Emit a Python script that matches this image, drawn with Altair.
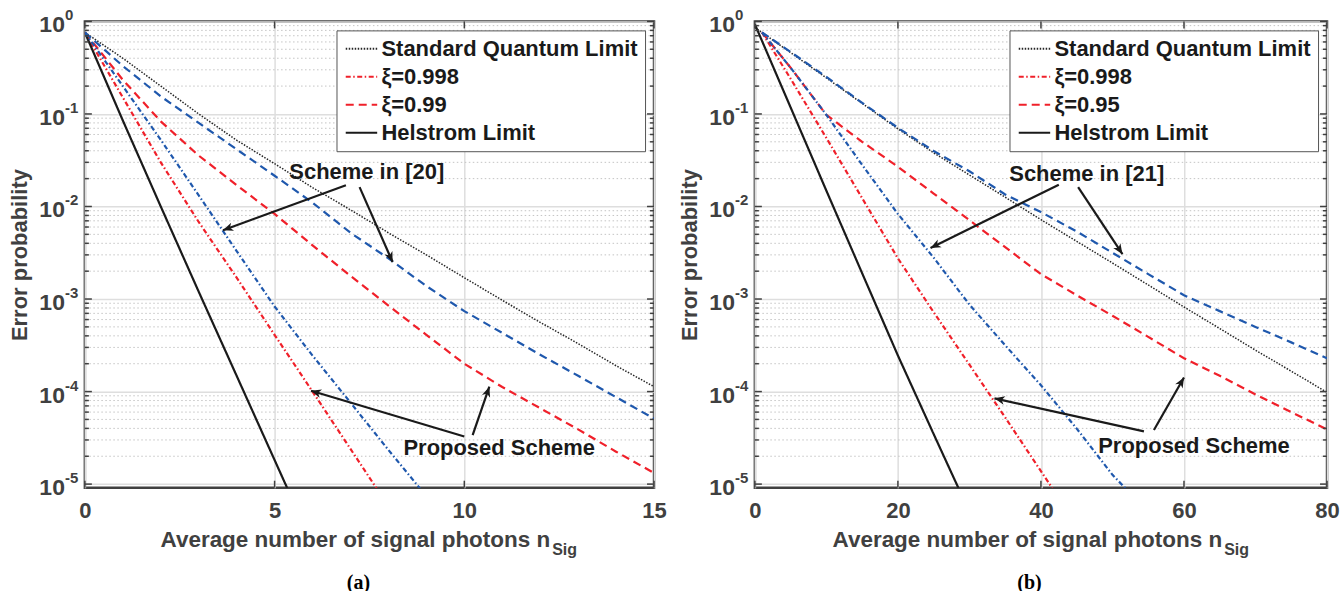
import math
import altair as alt
import pandas as pd

FONT = "Liberation Sans"
SERIF = "Liberation Serif"
GRAY = "#404040"
TXT = "#1a1a1a"
RED = "#f0202a"
BLUE = "#1f58ad"

H = 467
WA, WB = 570, 573
YMIN, YMAX = 9.14e-6, 1.0

# ---------------- data, panel (a) ----------------
a_x15 = list(range(0, 16))
a_sql = [0.76, 0.40, 0.20, 0.10, 0.052, 0.029, 0.016, 0.0092, 0.0052, 0.003,
         0.0017, 0.00097, 0.00056, 0.00033, 0.00019, 0.000113]
a_s20_099 = [0.76, 0.33, 0.155, 0.08, 0.0415, 0.0215, 0.011, 0.0052, 0.00275,
             0.00138, 0.00074, 0.00043, 0.00025, 0.000148, 8.7e-5, 5.1e-5]
a_p099 = [0.76, 0.234, 0.083, 0.0355, 0.017, 0.0083, 0.0038, 0.00178, 0.00085,
          0.00041, 0.0002, 0.000112, 6.6e-5, 3.9e-5, 2.24e-5, 1.32e-5]
a_x9 = list(range(0, 10))
a_s20_0998 = [0.76, 0.2, 0.0525, 0.0132, 0.0033, 0.00083, 0.000245, 7.6e-5, 2.34e-5, 7.4e-6]
a_x8 = list(range(0, 9))
a_p0998 = [0.76, 0.151, 0.030, 0.0068, 0.0017, 0.00041, 0.0001, 2.4e-5, 5.75e-6]
a_x6 = list(range(0, 7))
a_hel = [0.76, 0.085, 0.01, 0.0012, 0.000148, 1.82e-5, 2.24e-6]

# ---------------- data, panel (b) ----------------
b_x0_80 = list(range(0, 81, 5))
b_x1_80 = [1] + list(range(5, 81, 5))
b_sql = [0.86, 0.46, 0.245, 0.13, 0.069, 0.038, 0.0219, 0.0126, 0.0072, 0.0042,
         0.00245, 0.00142, 0.00082, 0.00048, 0.00028, 0.000166, 9.8e-5]
b_s21_095 = [0.76, 0.468, 0.251, 0.132, 0.0708, 0.0398, 0.024, 0.0135, 0.0087,
             0.00537, 0.00316, 0.00186, 0.0011, 0.00074, 0.0005, 0.00034, 0.000229]
b_p095 = [0.76, 0.316, 0.0977, 0.05, 0.0269, 0.0138, 0.0071, 0.00363, 0.00186,
          0.0011, 0.00066, 0.00039, 0.000229, 0.000148, 9.3e-5, 6.0e-5, 3.9e-5]
b_x1_55 = [1] + list(range(5, 56, 5))
b_s21_0998 = [0.76, 0.316, 0.0977, 0.0282, 0.0083, 0.0028, 0.00087, 0.000316,
              0.000117, 3.98e-5, 1.26e-5, 5e-6]
b_x1_45 = [1] + list(range(5, 46, 5))
b_p0998 = [0.76, 0.24, 0.055, 0.0123, 0.00275, 0.00072, 0.000195, 5.25e-5, 1.38e-5, 3.6e-6]
b_x0_30 = list(range(0, 31, 5))
b_hel = [0.93, 0.1175, 0.0148, 0.0019, 0.000245, 3.47e-5, 5e-6]

# labels
SQL = "Standard Quantum Limit"
HEL = "Helstrom Limit"
XTITLE = "Average number of signal photons n"
XSUB = "Sig"
YTITLE = "Error probability"

a_arrows = [  # (x_start, y_start, x_tip, y_tip)
    (6.88, 0.0170, 3.64, 0.00553),
    (7.24, 0.0162, 8.11, 0.00251),
    (10.0, 3.27e-5, 5.96, 1.02e-4),
    (10.22, 3.39e-5, 10.66, 1.13e-4),
]
b_arrows = [
    (42.5, 0.0172, 24.56, 0.00356),
    (45.2, 0.0162, 51.4, 0.00305),
    (54.4, 3.72e-5, 33.5, 8.45e-5),
    (55.8, 3.85e-5, 60.0, 1.42e-4),
]
a_notes = [("Scheme in [20]", 7.43, 0.0235), ("Proposed Scheme", 10.92, 2.43e-5)]
b_notes = [("Scheme in [21]", 46.4, 0.0226), ("Proposed Scheme", 61.4, 2.55e-5)]

DECADES = [1e-5, 1e-4, 1e-3, 1e-2, 1e-1, 1.0]
EXPS = ["-5", "-4", "-3", "-2", "-1", "0"]
MINORS = [m * 10.0 ** k for k in range(-5, 0) for m in range(2, 10)]

ARROW_PATH = "M0,0L-0.42,1L0,0.72L0.42,1Z"


def panel(xmax, W, xticks, series, legend_vals, arrows, notes, caption, cap_x, sub_x):
    names = [s[0] for s in series]
    colors = [s[3] for s in series]
    dashes = [s[4] for s in series]
    rows = []
    for name, xs, ys, _, _ in series:
        for x, y in zip(xs, ys):
            rows.append({"x": x, "y": y, "s": name})
    df = pd.DataFrame(rows)

    xsc = alt.Scale(domain=[0, xmax], nice=False, zero=False)
    ysc = alt.Scale(type="log", domain=[YMIN, YMAX], nice=False)

    leg = alt.Legend(
        title=None, values=legend_vals, orient="top-right", offset=9,
        fillColor="white", strokeColor="#555555", padding=7,
        symbolType="M-1.5,0H1.5", symbolSize=441, symbolStrokeWidth=2,
        symbolOffset=6.5,
        labelFont=FONT, labelFontSize=22, labelFontWeight="bold",
        labelColor=TXT, labelOffset=8.5, rowPadding=5, labelLimit=400,
    )

    xaxis = alt.Axis(
        values=xticks, grid=True, gridColor="#dedede", gridWidth=1.5,
        domain=False, ticks=False, labelFont=FONT, labelFontSize=22,
        labelFontWeight="bold", labelColor=GRAY, labelPadding=13,
        labelFlush=False, title=None,
    )
    yaxis = alt.Axis(
        values=DECADES, grid=True, gridColor="#dedede", gridWidth=1.5,
        domain=False, ticks=False, labels=False, title=YTITLE,
        titleFont=FONT, titleFontSize=22, titleFontWeight="bold",
        titleColor=GRAY, titlePadding=53,
    )

    def X(f):
        return alt.X(f, scale=xsc, axis=xaxis)

    def Y(f):
        return alt.Y(f, scale=ysc, axis=yaxis)

    minor = alt.Chart(pd.DataFrame({"v": MINORS})).mark_rule(
        color="#c4c4c4", strokeDash=[1.5, 2.5], strokeWidth=1
    ).encode(y=Y("v:Q"))

    lines = alt.Chart(df).mark_line(clip=True).encode(
        x=X("x:Q"),
        y=Y("y:Q"),
        color=alt.Color("s:N", scale=alt.Scale(domain=names, range=colors), legend=leg),
        strokeDash=alt.StrokeDash("s:N", scale=alt.Scale(domain=names, range=dashes), legend=leg),
        strokeWidth=alt.condition(alt.datum.s == SQL, alt.value(1.5), alt.value(2.2)),
    )

    # arrows
    ly0, ly1 = math.log10(YMAX), math.log10(YMIN)
    arows = []
    for x0, y0, x1, y1 in arrows:
        px0, px1 = x0 / xmax * W, x1 / xmax * W
        py0 = (ly0 - math.log10(y0)) / (ly0 - ly1) * H
        py1 = (ly0 - math.log10(y1)) / (ly0 - ly1) * H
        ang = math.degrees(math.atan2(px1 - px0, -(py1 - py0))) % 360
        arows.append({"x0": x0, "y0": y0, "x1": x1, "y1": y1, "ang": ang})
    adf = pd.DataFrame(arows)
    shafts = alt.Chart(adf).mark_rule(color=TXT, strokeWidth=2.2).encode(
        x=X("x0:Q"), y=Y("y0:Q"), x2="x1:Q", y2="y1:Q",
    )
    heads = alt.Chart(adf).mark_point(
        shape=ARROW_PATH, filled=True, color=TXT, size=420, opacity=1
    ).encode(
        x=X("x1:Q"), y=Y("y1:Q"), angle=alt.Angle("ang:Q", scale=None),
    )

    ndf = pd.DataFrame([{"t": t, "x": x, "y": y} for t, x, y in notes])
    note_txt = alt.Chart(ndf).mark_text(
        font=FONT, fontSize=22, fontWeight="bold", color=TXT, align="center", baseline="middle"
    ).encode(x=X("x:Q"), y=Y("y:Q"), text="t:N")

    # inner ticks
    tdf_major = pd.DataFrame({"v": DECADES})
    tdf_minor = pd.DataFrame({"v": MINORS})
    xt = pd.DataFrame({"v": xticks})
    tick_layers = []
    for data, ln in ((tdf_major, 7), (tdf_minor, 4)):
        tick_layers.append(alt.Chart(data).mark_rule(color=GRAY, strokeWidth=1.5).encode(
            y=Y("v:Q"), x=alt.value(0), x2=alt.value(ln)))
        tick_layers.append(alt.Chart(data).mark_rule(color=GRAY, strokeWidth=1.5).encode(
            y=Y("v:Q"), x=alt.value(W - ln), x2=alt.value(W)))
    tick_layers.append(alt.Chart(xt).mark_rule(color=GRAY, strokeWidth=1.5).encode(
        x=X("v:Q"), y=alt.value(H - 7), y2=alt.value(H)))
    tick_layers.append(alt.Chart(xt).mark_rule(color=GRAY, strokeWidth=1.5).encode(
        x=X("v:Q"), y=alt.value(0), y2=alt.value(7)))

    # y tick labels 10^k
    ldf = pd.DataFrame({"v": DECADES, "b": ["10"] * len(DECADES), "e": EXPS})
    base_lbl = alt.Chart(ldf).mark_text(
        font=FONT, fontSize=23, fontWeight="bold", color=GRAY, align="right",
        baseline="middle", dy=4
    ).encode(y=Y("v:Q"), x=alt.value(-20), text="b:N")
    exp_lbl = alt.Chart(ldf).mark_text(
        font=FONT, fontSize=15, fontWeight="bold", color=GRAY, align="left",
        baseline="middle", dy=-6
    ).encode(y=Y("v:Q"), x=alt.value(-20), text="e:N")

    # x title with subscript, caption
    tdf = pd.DataFrame({"t": [XTITLE], "s": [XSUB], "c": [caption]})
    xt_main = alt.Chart(tdf).mark_text(
        font=FONT, fontSize=22.5, fontWeight="bold", color=GRAY, align="right", baseline="alphabetic"
    ).encode(x=alt.value(sub_x - 2), y=alt.value(H + 59), text="t:N")
    xt_sub = alt.Chart(tdf).mark_text(
        font=FONT, fontSize=16, fontWeight="bold", color=GRAY, align="left", baseline="alphabetic"
    ).encode(x=alt.value(sub_x), y=alt.value(H + 67), text="s:N")
    cap = alt.Chart(tdf).mark_text(
        font=SERIF, fontSize=20, fontWeight="bold", color="#000000", align="center", baseline="middle"
    ).encode(x=alt.value(cap_x), y=alt.value(H + 95), text="c:N")

    return alt.layer(
        minor, lines, shafts, heads, note_txt, *tick_layers, base_lbl, exp_lbl, xt_main, xt_sub, cap
    ).properties(width=W, height=H)


DOT = [1.5, 1.5]
DASHDOT = [5, 2.5, 1.5, 2.5]
DASH = [8, 5]
SOLID = [1, 0]

pa = panel(
    15, WA, [0, 5, 10, 15],
    [
        (SQL, a_x15, a_sql, "#262626", DOT),
        ("ξ=0.998", a_x8, a_p0998, RED, DASHDOT),
        ("ξ=0.99", a_x15, a_p099, RED, DASH),
        (HEL, a_x6, a_hel, TXT, SOLID),
        ("Scheme in [20], ξ=0.998", a_x9, a_s20_0998, BLUE, DASHDOT),
        ("Scheme in [20], ξ=0.99", a_x15, a_s20_099, BLUE, DASH),
    ],
    [SQL, "ξ=0.998", "ξ=0.99", HEL], a_arrows, a_notes, "(a)", 274, 468,
)
pb = panel(
    80, WB, [0, 20, 40, 60, 80],
    [
        (SQL, b_x0_80, b_sql, "#262626", DOT),
        ("ξ=0.998", b_x1_45, b_p0998, RED, DASHDOT),
        ("ξ=0.95", b_x1_80, b_p095, RED, DASH),
        (HEL, b_x0_30, b_hel, TXT, SOLID),
        ("Scheme in [21], ξ=0.998", b_x1_55, b_s21_0998, BLUE, DASHDOT),
        ("Scheme in [21], ξ=0.95", b_x1_80, b_s21_095, BLUE, DASH),
    ],
    [SQL, "ξ=0.998", "ξ=0.95", HEL], b_arrows, b_notes, "(b)", 275, 470,
)

chart = alt.hconcat(pa, pb, spacing=9).resolve_scale(
    x="independent", y="independent", color="independent", strokeDash="independent"
).resolve_legend(color="independent", strokeDash="independent").properties(
    padding={"left": 7, "top": 6, "right": 0, "bottom": 0}, background="white"
).configure_view(stroke=GRAY, strokeWidth=2.5)

chart.save("out.html", embed_options={"renderer": "svg", "actions": False})
